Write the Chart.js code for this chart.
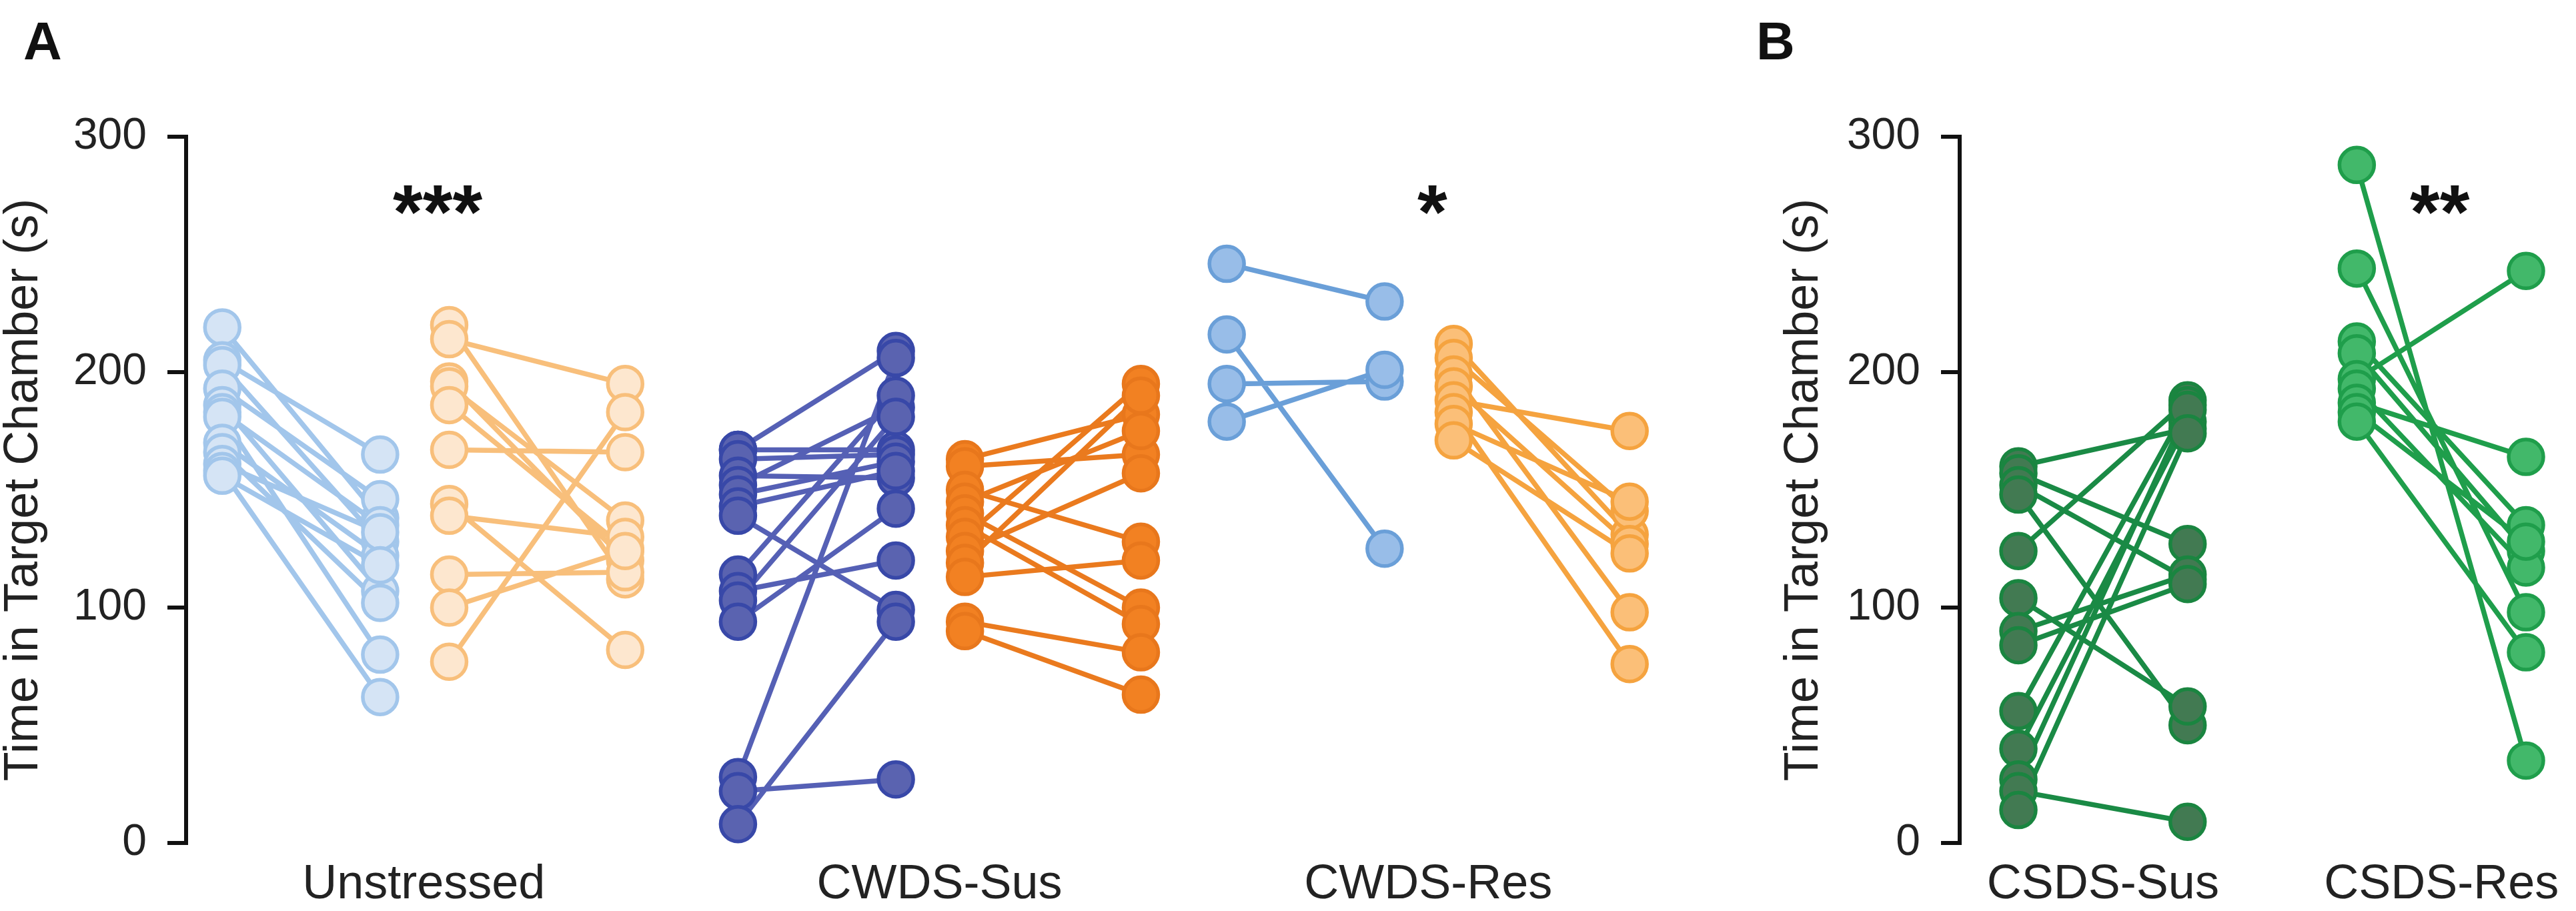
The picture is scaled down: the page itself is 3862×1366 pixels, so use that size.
<!DOCTYPE html>
<html>
<head>
<meta charset="utf-8">
<script src="https://cdn.jsdelivr.net/npm/chart.js@4.4.0/dist/chart.umd.min.js"></script>
<style>
  html, body { margin: 0; padding: 0; background: #fff; }
  #wrap { position: relative; width: 3862px; height: 1366px; }
  canvas { position: absolute; top: 0; }
  #chartA { left: 0; }
  #chartB { left: 2560px; }
</style>
</head>
<body>
<div id="wrap">
  <canvas id="chartA" width="2560" height="1366"></canvas>
  <canvas id="chartB" width="1302" height="1366"></canvas>
</div>
<script>
// ---- data (seconds in target chamber, each subject: before -> after) ----
const groupsA = ['Unstressed', 'CWDS-Sus', 'CWDS-Res'];
const groupsB = ['CSDS-Sus', 'CSDS-Res'];
const yTicks = [0, 100, 200, 300];

const unstrBluePre    = [219, 205, 203, 193, 186, 183, 181, 170, 166, 161, 158, 156];
const unstrBluePost   = [138, 165, 128, 146, 107, 135, 80, 122, 102, 132, 62, 118];
const unstrOrangePre  = [220, 214, 196, 194, 186, 167, 144, 139, 114, 100, 77];
const unstrOrangePost = [112, 195, 120, 137, 125, 166, 82, 130, 115, 124, 183];

const susBluePre    = [167, 167, 163, 156, 152, 148, 143, 139, 114, 107, 103, 94, 28, 22, 8];
const susBluePost   = [209, 167, 165, 155, 185, 162, 158, 99, 190, 120, 181, 142, 206, 27, 94];
const susOrangePre  = [163, 160, 150, 145, 140, 135, 130, 124, 119, 113, 94, 90];
const susOrangePost = [182, 165, 128, 175, 100, 93, 195, 157, 190, 120, 81, 63];

const resBluePre    = [246, 216, 195, 179];
const resBluePost   = [230, 125, 196, 201];
const resOrangePre  = [212, 206, 199, 194, 188, 183, 178, 171];
const resOrangePost = [131, 141, 98, 127, 175, 76, 145, 123];

const csdsSusPre  = [160, 157, 152, 148, 124, 104, 90, 84, 56, 40, 27, 22, 14];
const csdsSusPost = [176, 127, 112, 50, 188, 58, 114, 110, 186, 179, 184, 9, 174];
const csdsResPre  = [288, 244, 213, 208, 197, 193, 187, 183, 179];
const csdsResPost = [35, 98, 135, 124, 243, 117, 164, 128, 81];

const sigA = ['***', '', '*'];
const sigB = ['', '**'];

// ---- layout ----
const groupStartA = [0, 3.136, 6.108];
const slot = [0, 0.96, 1.38, 2.45];
const sigOffsetA = [1.31, 1.2, 1.25];
const FONT = "'Liberation Sans', Arial, Helvetica, sans-serif";
Chart.defaults.font.family = FONT;
Chart.defaults.color = '#222';

function pairs(pre, post, x0, x1) {
  const d = [];
  pre.forEach((v, i) => {
    d.push({x: x0, y: v}, {x: x1, y: post[i]}, {x: x1, y: null});
  });
  return d;
}

function ds(pre, post, x0, x1, fill, edge, line) {
  return {
    data: pairs(pre, post, x0, x1),
    borderColor: line,
    borderWidth: 7.5,
    pointBackgroundColor: fill,
    pointBorderColor: edge,
    pointBorderWidth: 5.5,
    pointRadius: 26,
    pointHoverRadius: 26,
    spanGaps: false,
    tension: 0,
    clip: false
  };
}

function yScale(width, titlePad) {
  return {
    min: 0, max: 300,
    afterBuildTicks: s => { s.ticks = yTicks.map(v => ({value: v})); },
    afterFit: s => { s.width = width; },
    ticks: { font: {size: 66}, color: '#222', padding: 31 },
    grid: { drawOnChartArea: false, drawTicks: true, tickLength: 28, lineWidth: 6, color: '#111', tickColor: '#111' },
    border: { display: true, color: '#111', width: 6 },
    title: { display: true, text: 'Time in Target Chamber (s)', font: {size: 72, lineHeight: 1}, color: '#222', padding: {top: titlePad, bottom: 0} }
  };
}

function xScale(min, max, centers, names) {
  return {
    type: 'linear', min: min, max: max,
    afterBuildTicks: s => { s.ticks = centers.map(v => ({value: v})); },
    afterFit: s => { s.height = 102; },
    ticks: { autoSkip: false, maxRotation: 0, font: {size: 72}, color: '#222', padding: 20,
             callback: (v, i) => names[i] },
    grid: { display: false, drawTicks: false },
    border: { display: false }
  };
}

function notes(letter, lx, stars, starX) {
  return {
    id: 'notes',
    afterDraw(chart) {
      const ctx = chart.ctx;
      const xs = chart.scales.x, ys = chart.scales.y;
      ctx.save();
      ctx.fillStyle = '#111';
      ctx.font = 'bold 80px ' + FONT;
      ctx.textAlign = 'left';
      ctx.textBaseline = 'alphabetic';
      ctx.fillText(letter, lx, 89);
      ctx.font = 'bold 115px ' + FONT;
      ctx.textAlign = 'center';
      stars.forEach((s, i) => {
        if (s) ctx.fillText(s, xs.getPixelForValue(starX[i]), ys.getPixelForValue(257));
      });
      ctx.restore();
    }
  };
}

const common = {
  responsive: false,
  devicePixelRatio: 1,
  animation: false,
  events: [],
  layout: { padding: { top: 205, bottom: 0, left: 0, right: 0 } },
  plugins: { legend: {display: false}, tooltip: {enabled: false} }
};

// ---- panel A ----
const gA = groupStartA;
new Chart(document.getElementById('chartA'), {
  type: 'line',
  data: {
    datasets: [
      ds(unstrBluePre, unstrBluePost, gA[0] + slot[0], gA[0] + slot[1], '#d5e4f5', '#a2c6eb', '#a2c6eb'),
      ds(unstrOrangePre, unstrOrangePost, gA[0] + slot[2], gA[0] + slot[3], '#fde7cf', '#f8bf7b', '#f8bf7b'),
      ds(susBluePre, susBluePost, gA[1] + slot[0], gA[1] + slot[1], '#5a63b0', '#3848a8', '#5560b5'),
      ds(susOrangePre, susOrangePost, gA[1] + slot[2], gA[1] + slot[3], '#f28122', '#e8771c', '#ea7a1e'),
      ds(resBluePre, resBluePost, gA[2] + slot[0], gA[2] + slot[1], '#98bde8', '#6a9fd8', '#6a9fd8'),
      ds(resOrangePre, resOrangePost, gA[2] + slot[2], gA[2] + slot[3], '#fbbf78', '#f5a33f', '#f5a33f')
    ]
  },
  options: Object.assign({}, common, {
    scales: {
      x: xScale(-0.22, 8.904, gA.map(g => g + (slot[0] + slot[3]) / 2), groupsA),
      y: yScale(279, 0)
    }
  }),
  plugins: [notes('A', 35, sigA, gA.map((g, i) => g + sigOffsetA[i]))]
});

// ---- panel B ----
new Chart(document.getElementById('chartB'), {
  type: 'line',
  data: {
    datasets: [
      ds(csdsSusPre, csdsSusPost, 0, 1, '#427a52', '#1a8540', '#1a8a45'),
      ds(csdsResPre, csdsResPost, 2, 3, '#42b86a', '#1f9e4b', '#1f9e4b')
    ]
  },
  options: Object.assign({}, common, {
    scales: {
      x: xScale(-0.347, 3.14, [0.5, 2.5], groupsB),
      y: yScale(378, 109)
    }
  }),
  plugins: [notes('B', 73, sigB, [0.5, 2.49])]
});
</script>
</body>
</html>
